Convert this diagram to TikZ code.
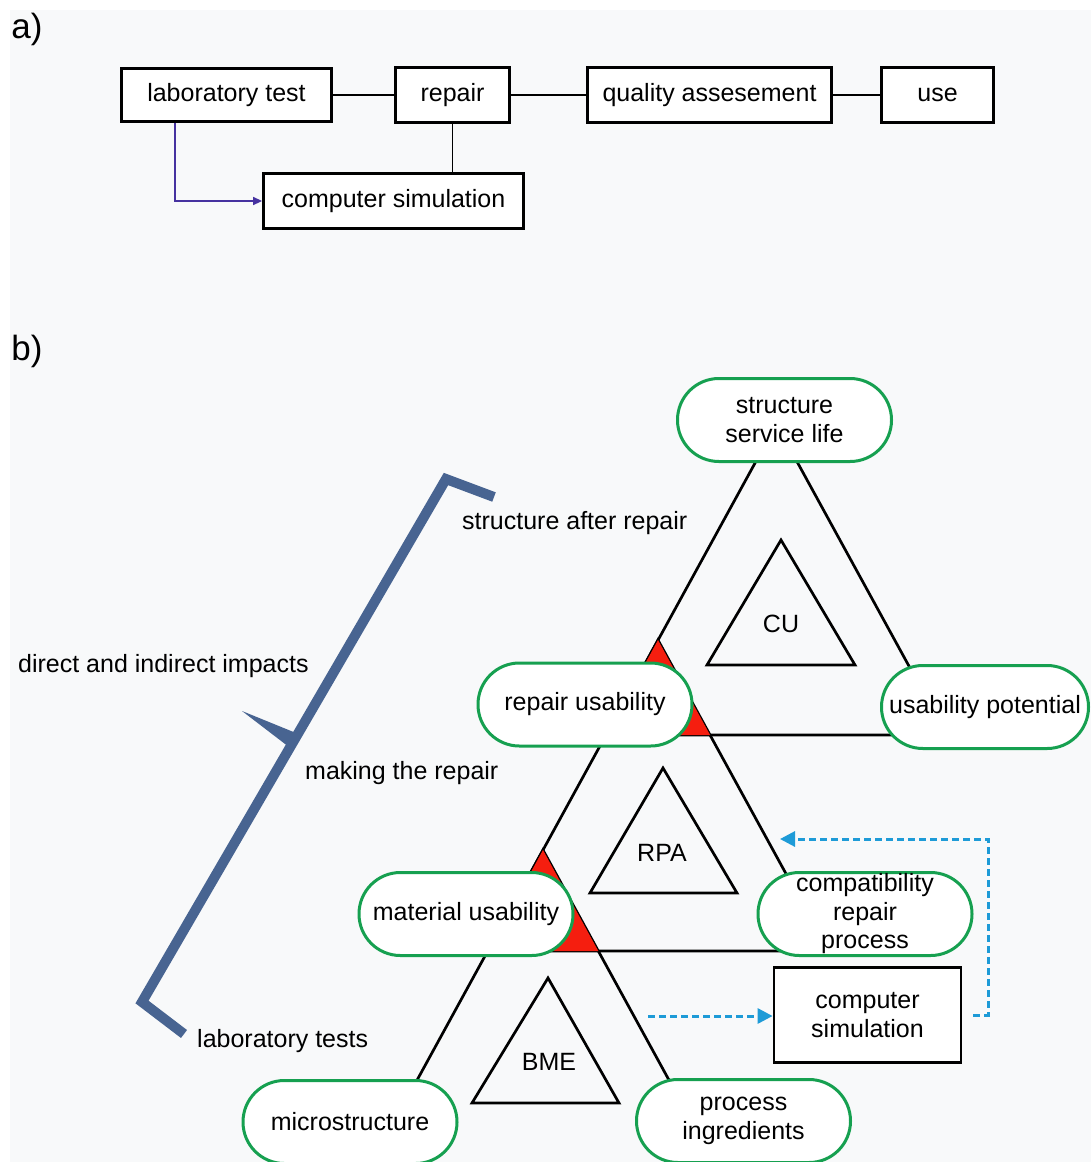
\documentclass[tikz,border=0pt]{standalone}
\usepackage{fontspec}
\setmainfont{Liberation Sans}
\usetikzlibrary{arrows.meta,calc}
\definecolor{bgc}{RGB}{248,249,250}
\definecolor{grn}{RGB}{22,160,80}
\definecolor{redc}{RGB}{245,30,15}
\definecolor{blu}{RGB}{30,155,215}
\definecolor{pur}{RGB}{70,50,160}
\definecolor{brk}{RGB}{72,100,145}
\newcommand\dfs{\fontsize{25}{28.5}\selectfont}
\newcommand\lfs{\fontsize{35}{40}\selectfont}
\begin{document}
\begin{tikzpicture}[x=1pt,y=-1pt,
  txt/.style={font=\dfs, inner sep=0pt},
  abox/.style={draw, line width=2.8pt, fill=white, font=\dfs, inner sep=0pt, align=center},
  stad/.style={draw=grn, line width=3pt, fill=white, rectangle, rounded corners=41.4pt,
     minimum width=214pt, minimum height=83pt, inner sep=0pt, align=center, font=\dfs},
  tri/.style={draw, line width=2.7pt, line join=miter},
  link/.style={line width=1.5pt},
  dotarrow/.style={blu, line width=3pt, dash pattern=on 7pt off 4pt,
     -{Triangle[length=15pt,width=15pt]}},
]
\useasboundingbox (0,0) rectangle (1091,1162);
\fill[white] (0,0) rectangle (1091,1162);
\fill[bgc] (10,10) rectangle (1091,1162);

% ---------------- part a
\node[txt, font=\lfs] (la) at (27,29) {a)};
\node[abox, minimum width=210pt, minimum height=53pt] (lab) at (226.5,95) {laboratory test};
\node[abox, minimum width=114pt, minimum height=55pt] (rep) at (452.5,95) {repair};
\node[abox, minimum width=244pt, minimum height=55pt] (qa) at (709.5,95) {quality assesement};
\node[abox, minimum width=112pt, minimum height=55pt] (use) at (937.5,95) {use};
\node[abox, minimum width=260pt, minimum height=55pt] (cs) at (393.5,201) {computer simulation};
\draw[link] (lab.east) -- (rep.west);
\draw[link] (rep.east) -- (qa.west);
\draw[link] (qa.east) -- (use.west);
\draw[link] (rep.south) -- (rep.south |- cs.north);
\draw[pur, line width=1.4pt, -{Triangle[length=9pt,width=8pt]}]
  ([xshift=55pt]lab.south west) |- (cs.west);

% ---------------- part b
\node[txt, font=\lfs] (lb) at (27,351) {b)};

\coordinate (A1) at (776.4,424);
\coordinate (B1) at (606.1,735);
\coordinate (C1) at (946.7,735);
\coordinate (A2) at (658,640);
\coordinate (B2) at (487.7,951);
\coordinate (C2) at (828.3,951);
\coordinate (A3) at (543,850);
\coordinate (B3) at (362.4,1180);
\coordinate (C3) at (723.7,1180);
\coordinate (R1) at (710.1,735);
\coordinate (R2) at (598.3,951);

\draw[tri] (A1) -- (B1) -- (C1) -- cycle;
\draw[tri] (A2) -- (B2) -- (C2) -- cycle;
\draw[tri] (A3) -- (B3) -- (C3) -- cycle;

\draw[tri] (781,540) -- (707,665) -- (855,665) -- cycle;
\draw[tri] (663,768) -- (590,893) -- (737,893) -- cycle;
\draw[tri] (548,978) -- (472,1103) -- (619,1103) -- cycle;
\node[txt] (cu) at (781,624) {CU};
\node[txt] (rpa) at (662,853) {RPA};
\node[txt] (bme) at (549,1062) {BME};

\fill[redc] (A2) -- (B1) -- (R1) -- cycle;
\fill[redc] (A3) -- (B2) -- (R2) -- cycle;

\node[stad] (ssl) at (784.5,420) {structure\\service life};
\node[stad] (ru) at (585,704.5) {repair usability};
\node[stad, minimum width=207pt] (up) at (985,707) {usability potential};
\node[stad] (mu) at (466,914) {material usability};
\node[stad] (crp) at (865,914) {compatibility\\repair\\process};
\node[stad] (ms) at (350,1122) {microstructure};
\node[stad] (pi) at (743.5,1121) {process\\ingredients};
\node[abox, minimum width=187pt, minimum height=95pt] (cs2) at (867.5,1015) {computer\\simulation};

\coordinate (ds) at (648,1016);
\coordinate (dturn) at (988,839);
\coordinate (dend) at (780,839);
\draw[dotarrow] (ds) -- (ds -| cs2.west);
\draw[dotarrow] ([xshift=11pt]cs2.east) -| (dturn) -- (dend);

% bracket
\draw[brk, line width=10pt, line join=miter] (494,497) -- (446,479) -- (142,1002) -- (184,1034);
\fill[brk] (242,711) -- (296,733) -- (289,747) -- cycle;

\node[txt, anchor=west] (t1) at (462,523) {structure after repair};
\node[txt, anchor=west] (t2) at (18,666) {direct and indirect impacts};
\node[txt, anchor=west] (t3) at (305,773) {making the repair};
\node[txt, anchor=west] (t4) at (197,1041) {laboratory tests};
\end{tikzpicture}
\end{document}
